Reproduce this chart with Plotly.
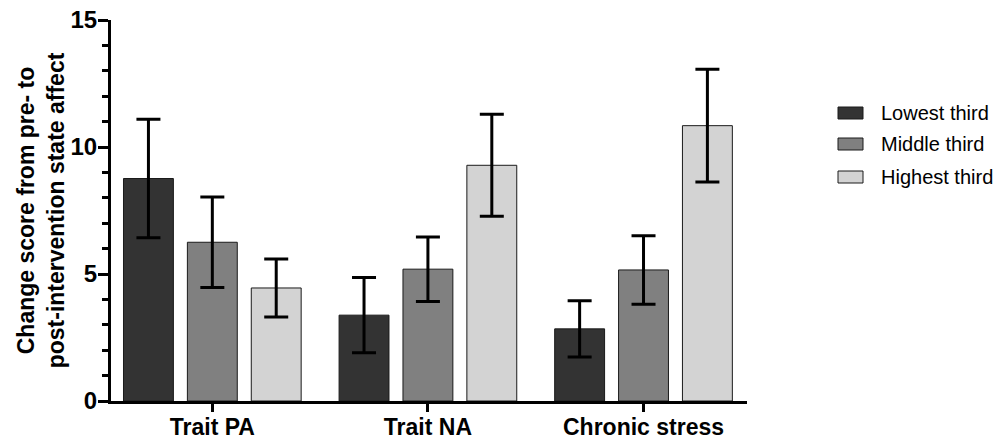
import plotly.graph_objects as go

# Mean change scores and error-bar half-widths per tertile group
categories = ["Trait PA", "Trait NA", "Chronic stress"]
groups = ["Lowest third", "Middle third", "Highest third"]
means = {
    "Lowest third": [8.76, 3.38, 2.84],
    "Middle third": [6.25, 5.19, 5.16],
    "Highest third": [4.45, 9.28, 10.84],
}
errors = {
    "Lowest third": [2.33, 1.48, 1.11],
    "Middle third": [1.78, 1.27, 1.35],
    "Highest third": [1.14, 2.01, 2.22],
}
y_ticks = [0, 5, 10, 15]

colors = {"Lowest third": "#333333", "Middle third": "#808080", "Highest third": "#d3d3d3"}
FONT = "Arial, 'Liberation Sans', Helvetica, sans-serif"

fig = go.Figure()
for g in groups:
    fig.add_trace(go.Bar(
        x=list(range(len(categories))),
        y=means[g],
        name=g,
        marker=dict(color=colors[g], line=dict(color="#1a1a1a", width=1)),
        error_y=dict(type="data", array=errors[g], visible=True,
                     color="#000000", thickness=3, width=12),
        showlegend=False,
    ))

# Legend drawn as swatches + labels to the right of the plot
W, H = 1001, 441
ml, mr, mt, mb = 111, 254, 20, 40
pw, ph = W - ml - mr, H - mt - mb
row_y = [113, 144, 177]
for g, yc in zip(groups, row_y):
    y0 = (H - mb - (yc + 6)) / ph
    y1 = (H - mb - (yc - 6)) / ph
    fig.add_shape(type="rect", xref="paper", yref="paper",
                  x0=(838 - ml) / pw, x1=(863 - ml) / pw, y0=y0, y1=y1,
                  fillcolor=colors[g], line=dict(color="#1a1a1a", width=1))
    fig.add_annotation(xref="paper", yref="paper", x=(879 - ml) / pw,
                       y=(H - mb - yc) / ph, text=g, showarrow=False,
                       xanchor="left", yanchor="middle",
                       font=dict(family=FONT, size=20, color="#000000"))

fig.update_layout(
    width=W, height=H,
    margin=dict(l=ml, r=mr, t=mt, b=mb),
    paper_bgcolor="white", plot_bgcolor="white",
    barmode="group", bargap=0.111, bargroupgap=0.219,
    font=dict(family=FONT, color="#000000"),
    xaxis=dict(
        range=[-0.47, 2.48],
        tickvals=list(range(len(categories))),
        ticktext=[f"<b>{c}</b>" for c in categories],
        tickfont=dict(size=23),
        ticklabelstandoff=-5,
        showline=True, linecolor="#000000", linewidth=3,
        ticks="outside", ticklen=8, tickwidth=3, tickcolor="#000000",
        showgrid=False, zeroline=False, automargin=False,
    ),
    yaxis=dict(
        range=[0, 15],
        tickvals=y_ticks,
        ticktext=[f"<b>{v}</b>" for v in y_ticks],
        tickfont=dict(size=24),
        ticklabelstandoff=-4,
        showline=True, linecolor="#000000", linewidth=3,
        ticks="outside", ticklen=10, tickwidth=3, tickcolor="#000000",
        minor=dict(dtick=1, ticks="outside", ticklen=6, tickwidth=3,
                   tickcolor="#000000", showgrid=False),
        showgrid=False, zeroline=False, automargin=False,
        title=dict(text="<b>Change score from pre- to<br>post-intervention state affect</b>",
                   font=dict(size=23), standoff=0),
    ),
)

fig.write_html("out.html")
